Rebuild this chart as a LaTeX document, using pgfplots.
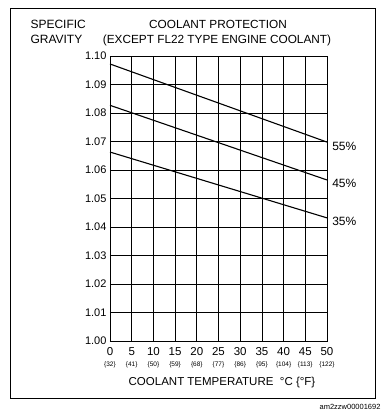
\documentclass[border=0pt]{standalone}
\usepackage{pgfplots}
\pgfplotsset{compat=1.18}
\usepackage{fontspec}
\setmainfont{Liberation Sans}
\begin{document}
\begin{tikzpicture}[x=1pt,y=1pt]
\path[use as bounding box] (0,0) rectangle (385,-416);
\draw[line width=0.9pt] (10,-8) rectangle (375,-398);
\begin{axis}[
  at={(110pt,-341pt)}, anchor=south west,
  scale only axis, width=217pt, height=285pt,
  xmin=0, xmax=50, ymin=1.00, ymax=1.10,
  xtick={0,5,10,15,20,25,30,35,40,45,50},
  xticklabels={
    {0\\[-2pt]{\fontsize{6.5}{6.5}\selectfont\{32\}}},
    {5\\[-2pt]{\fontsize{6.5}{6.5}\selectfont\{41\}}},
    {10\\[-2pt]{\fontsize{6.5}{6.5}\selectfont\{50\}}},
    {15\\[-2pt]{\fontsize{6.5}{6.5}\selectfont\{59\}}},
    {20\\[-2pt]{\fontsize{6.5}{6.5}\selectfont\{68\}}},
    {25\\[-2pt]{\fontsize{6.5}{6.5}\selectfont\{77\}}},
    {30\\[-2pt]{\fontsize{6.5}{6.5}\selectfont\{86\}}},
    {35\\[-2pt]{\fontsize{6.5}{6.5}\selectfont\{95\}}},
    {40\\[-2pt]{\fontsize{6.5}{6.5}\selectfont\{104\}}},
    {45\\[-2pt]{\fontsize{6.5}{6.5}\selectfont\{113\}}},
    {50\\[-2pt]{\fontsize{6.5}{6.5}\selectfont\{122\}}}},
  xticklabel style={align=center, font=\fontsize{11.5}{13}\selectfont, yshift=-3pt},
  ytick={1.00,1.01,1.02,1.03,1.04,1.05,1.06,1.07,1.08,1.09,1.10},
  yticklabel style={/pgf/number format/fixed, /pgf/number format/fixed zerofill,
    /pgf/number format/precision=2, font=\fontsize{11}{13}\selectfont},
  /pgf/number format/assume math mode=true,
  major tick length=0pt,
  grid=major,
  major grid style={black, line width=0.6pt},
  axis line style={line width=0.9pt},
  clip=false,
]
\addplot[black, line width=1.1pt] coordinates {(0,1.0972) (50,1.0698)};
\addplot[black, line width=1.1pt] coordinates {(0,1.0827) (50,1.0565)};
\addplot[black, line width=1.1pt] coordinates {(0,1.0663) (50,1.0432)};
\node[anchor=west, font=\fontsize{12}{13}\selectfont] at (axis cs:50.4,1.0683) {55\%};
\node[anchor=west, font=\fontsize{12}{13}\selectfont] at (axis cs:50.4,1.0552) {45\%};
\node[anchor=west, font=\fontsize{12}{13}\selectfont] at (axis cs:50.4,1.0420) {35\%};
\end{axis}
\node[anchor=west, font=\fontsize{12}{15}\selectfont, align=left] at (27,-32) {SPECIFIC\\GRAVITY};
\node[font=\fontsize{11.8}{13}\selectfont] at (218,-24) {COOLANT PROTECTION};
\node[font=\fontsize{11.8}{13}\selectfont] at (217,-40) {(EXCEPT FL22 TYPE ENGINE COOLANT)};
\node[font=\fontsize{11.5}{13}\selectfont] at (222,-383) {COOLANT TEMPERATURE\ \ °C \{°F\}};
\node[anchor=east, font=\fontsize{7.5}{9}\selectfont] at (384,-407) {am2zzw00001692};
\end{tikzpicture}
\end{document}
